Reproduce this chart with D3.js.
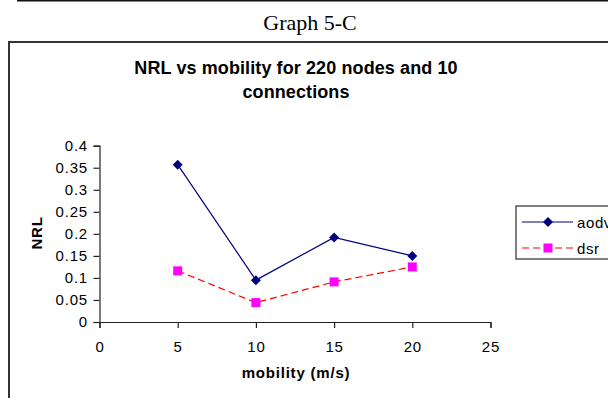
<!DOCTYPE html>
<html>
<head>
<meta charset="utf-8">
<script src="https://cdn.jsdelivr.net/npm/d3@7"></script>
<style>
  html, body { margin: 0; padding: 0; background: #fff; }
  svg { display: block; }
</style>
</head>
<body>
<svg id="chart" width="608" height="398"></svg>
<script>
// Data
const mobility = [5, 10, 15, 20];
const aodv = [0.357, 0.095, 0.192, 0.150];
const dsr = [0.116, 0.044, 0.091, 0.125];
const xTicks = [0, 5, 10, 15, 20, 25];
const yTicks = [0, 0.05, 0.1, 0.15, 0.2, 0.25, 0.3, 0.35, 0.4];
const seriesNames = ["aodv", "dsr"];

const svg = d3.select("#chart");
const sans = "'Liberation Sans', Arial, sans-serif";

// Page rule and caption above the chart frame
svg.append("line").attr("x1", 17).attr("x2", 608).attr("y1", 0.5).attr("y2", 0.5)
  .attr("stroke", "#111").attr("stroke-width", 2);
svg.append("text").attr("x", 310).attr("y", 30).attr("text-anchor", "middle")
  .attr("font-family", "'Liberation Serif', 'Times New Roman', serif")
  .attr("font-size", 22).attr("fill", "#000").text("Graph 5-C");

// Chart frame
svg.append("path").attr("d", "M9,398 V42 H608")
  .attr("fill", "none").attr("stroke", "#333").attr("stroke-width", 2);

// Title
const title = svg.append("text").attr("text-anchor", "middle")
  .attr("font-family", sans).attr("font-weight", "bold").attr("font-size", 18)
  .attr("letter-spacing", 0.1).attr("fill", "#000");
title.append("tspan").attr("x", 296).attr("y", 74).text("NRL vs mobility for 220 nodes and 10");
title.append("tspan").attr("x", 296).attr("y", 98).text("connections");

// Scales
const x = d3.scaleLinear().domain([0, 25]).range([99.5, 490.5]);
const y = d3.scaleLinear().domain([0, 0.4]).range([322, 145.7]);

// Axes
const xAxis = svg.append("g").attr("transform", "translate(0,322)")
  .call(d3.axisBottom(x).tickValues(xTicks).tickSize(6).tickPadding(13).tickFormat(d3.format("d")));
const yAxis = svg.append("g").attr("transform", "translate(99.5,0)")
  .call(d3.axisLeft(y).tickValues(yTicks).tickSize(6).tickPadding(5.5).tickFormat(d => d === 0 ? "0" : String(+d.toFixed(2))));
[xAxis, yAxis].forEach(a => {
  a.select(".domain").attr("stroke", "#222").attr("stroke-width", 1.2);
  a.selectAll(".tick line").attr("stroke", "#222").attr("stroke-width", 1.2);
  a.selectAll("text").attr("font-family", sans).attr("font-size", 15)
    .attr("letter-spacing", 0.8).attr("fill", "#000");
});

// Axis titles
svg.append("text").attr("x", 296).attr("y", 378).attr("text-anchor", "middle")
  .attr("font-family", sans).attr("font-weight", "bold").attr("font-size", 15)
  .attr("letter-spacing", 0.8).text("mobility (m/s)");
svg.append("text").attr("transform", "translate(42,233) rotate(-90)").attr("text-anchor", "middle")
  .attr("font-family", sans).attr("font-weight", "bold").attr("font-size", 15)
  .attr("letter-spacing", 0.8).text("NRL");

// Series
const line = d3.line().x(d => x(d[0])).y(d => y(d[1]));
const aodvPts = mobility.map((m, i) => [m, aodv[i]]);
const dsrPts = mobility.map((m, i) => [m, dsr[i]]);

svg.append("path").datum(dsrPts).attr("d", line).attr("fill", "none")
  .attr("stroke", "#ff0000").attr("stroke-width", 1.2).attr("stroke-dasharray", "7,4");
svg.append("path").datum(aodvPts).attr("d", line).attr("fill", "none")
  .attr("stroke", "#000080").attr("stroke-width", 1.2);

// Equal-sided diamond marker
const diamondPath = "M0,-5 L5,0 L0,5 L-5,0 Z";
svg.selectAll(".m-aodv").data(aodvPts).enter().append("path")
  .attr("transform", d => `translate(${x(d[0])},${y(d[1])})`)
  .attr("d", diamondPath).attr("fill", "#000080");
svg.selectAll(".m-dsr").data(dsrPts).enter().append("rect")
  .attr("x", d => x(d[0]) - 4.5).attr("y", d => y(d[1]) - 4.5)
  .attr("width", 9).attr("height", 9).attr("fill", "#ff00ff");

// Legend (runs past the right edge of the frame)
const lg = svg.append("g");
lg.append("rect").attr("x", 516).attr("y", 206).attr("width", 110).attr("height", 53)
  .attr("fill", "#fff").attr("stroke", "#555").attr("stroke-width", 1.5);
const ly = [222, 248];
lg.append("line").attr("x1", 522).attr("x2", 573).attr("y1", ly[0]).attr("y2", ly[0])
  .attr("stroke", "#000080").attr("stroke-width", 1.2);
lg.append("path").attr("transform", `translate(548,${ly[0]})`).attr("d", diamondPath).attr("fill", "#000080");
lg.append("line").attr("x1", 522).attr("x2", 573).attr("y1", ly[1]).attr("y2", ly[1])
  .attr("stroke", "#ff0000").attr("stroke-width", 1.2).attr("stroke-dasharray", "7,4");
lg.append("rect").attr("x", 543.5).attr("y", ly[1] - 4.5).attr("width", 9).attr("height", 9).attr("fill", "#ff00ff");
seriesNames.forEach((n, i) => {
  lg.append("text").attr("x", 577).attr("y", ly[i] + 5.5).attr("font-family", sans)
    .attr("font-size", 15).attr("letter-spacing", 0.6).attr("fill", "#000").text(n);
});
</script>
</body>
</html>
